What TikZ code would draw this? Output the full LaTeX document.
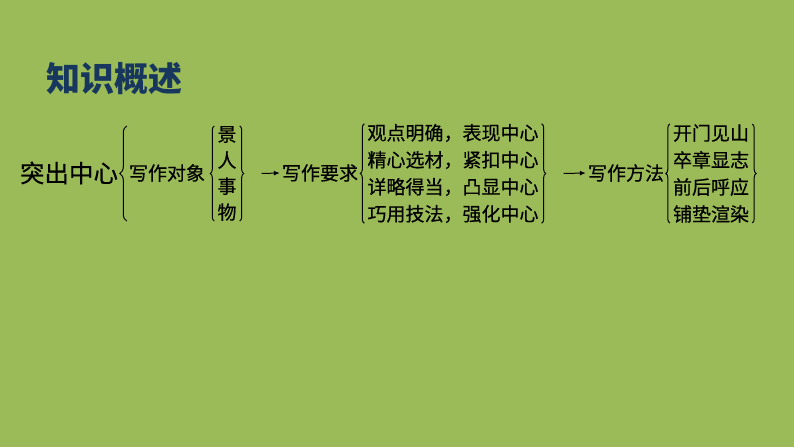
\documentclass[tikz,border=0pt]{standalone}
\usepackage{fontspec}
\setmainfont{Noto Sans CJK SC}
\newfontfamily\bodyfont{Noto Sans CJK SC}[FakeBold=0.4]
\usetikzlibrary{decorations.pathreplacing,arrows.meta}
\definecolor{slidegreen}{RGB}{155,187,89}
\definecolor{titlenavy}{RGB}{23,55,94}
\tikzset{
  lbl/.style={inner sep=0pt, font=\bodyfont\fontsize{19}{19}\selectfont},
  lst/.style={inner xsep=3pt, inner ysep=0pt, align=center, font=\bodyfont\fontsize{19}{27}\selectfont},
  brc/.style={decorate, decoration={brace, amplitude=4pt}, line width=1pt},
  arr/.style={-{Latex[length=6pt,width=5pt]}, line width=1pt},
}
\begin{document}
\begin{tikzpicture}[x=1pt,y=1pt]
  \fill[slidegreen] (0,0) rectangle (794,447);

  \node[inner sep=0pt, text=titlenavy, font=\fontsize{34}{34}\selectfont\bfseries] (title) at (114,368) {知识概述};

  \node[inner sep=0pt, font=\bodyfont\fontsize{24.5}{24.5}\selectfont] (topic) at (69,274) {突出中心};
  \node[lbl] (obj) at (167,274) {写作对象};
  \node[lst, font=\bodyfont\fontsize{19}{26}\selectfont] (objs) at (227,273.5) {景\\人\\事\\物};
  \node[lbl] (req) at (320,274) {写作要求};
  \node[lst] (reqs) at (453,273.5) {观点明确，表现中心\\精心选材，紧扣中心\\详略得当，凸显中心\\巧用技法，强化中心};
  \node[lbl] (way) at (626,274) {写作方法};
  \node[lst] (ways) at (711,273.5) {开门见山\\卒章显志\\前后呼应\\铺垫渲染};

  % braces
  \draw[brc, decoration={amplitude=7pt}] ([xshift=-2pt]obj.west |- objs.south) -- ([xshift=-2pt]obj.west |- objs.north);
  \draw[brc] (objs.south west) -- (objs.north west);
  \draw[brc] (objs.north east) -- (objs.south east);
  \draw[brc] (reqs.south west) -- (reqs.north west);
  \draw[brc] (reqs.north east) -- (reqs.south east);
  \draw[brc] (ways.south west) -- (ways.north west);
  \draw[brc] (ways.north east) -- (ways.south east);

  % arrows
  \coordinate (a1) at ([xshift=22pt]objs.east);
  \coordinate (a2) at ([xshift=22pt]reqs.east);
  \draw[arr] (a1) -- ([xshift=-2pt]req.west);
  \draw[arr] (a2) -- ([xshift=-2pt]way.west);
\end{tikzpicture}
\end{document}
